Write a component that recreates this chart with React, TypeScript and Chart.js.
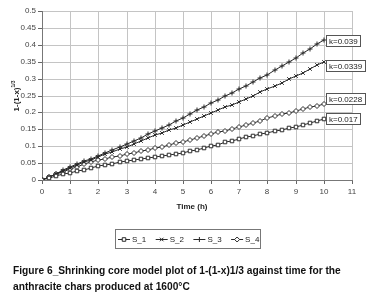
import React, { useEffect, useRef } from 'react';
import { Chart, registerables } from 'chart.js';
import { drawPoint } from 'chart.js/helpers';

Chart.register(...registerables);

const times = [
  0, 0.25, 0.5, 0.75, 1, 1.25, 1.5, 1.75, 2, 2.25, 2.5, 2.75, 3, 3.25, 3.5, 3.75, 4, 4.25, 4.5, 4.75,
  5, 5.25, 5.5, 5.75, 6, 6.25, 6.5, 6.75, 7, 7.25, 7.5, 7.75, 8, 8.25, 8.5, 8.75, 9, 9.25, 9.5, 9.75, 10,
];

const s1 = [
  0, 0.006, 0.011, 0.017, 0.022, 0.027, 0.031, 0.036, 0.04, 0.044, 0.048, 0.052, 0.055, 0.058, 0.062, 0.065,
  0.068, 0.071, 0.074, 0.078, 0.081, 0.086, 0.09, 0.095, 0.1, 0.105, 0.111, 0.116, 0.122, 0.126, 0.131, 0.135,
  0.14, 0.144, 0.149, 0.153, 0.158, 0.163, 0.169, 0.174, 0.18,
];
const s2 = [
  0, 0.009, 0.018, 0.027, 0.036, 0.044, 0.052, 0.06, 0.068, 0.076, 0.084, 0.091, 0.099, 0.107, 0.115, 0.124,
  0.132, 0.14, 0.148, 0.155, 0.163, 0.172, 0.18, 0.189, 0.197, 0.206, 0.215, 0.223, 0.232, 0.241, 0.25, 0.259,
  0.268, 0.278, 0.288, 0.298, 0.308, 0.318, 0.329, 0.339, 0.35,
];
const s3 = [
  0, 0.01, 0.019, 0.029, 0.038, 0.046, 0.055, 0.063, 0.072, 0.08, 0.089, 0.097, 0.106, 0.116, 0.125, 0.135,
  0.145, 0.155, 0.164, 0.174, 0.184, 0.195, 0.206, 0.217, 0.228, 0.238, 0.248, 0.258, 0.268, 0.279, 0.29, 0.301,
  0.312, 0.324, 0.337, 0.349, 0.362, 0.375, 0.388, 0.401, 0.414,
];
const s4 = [
  0, 0.009, 0.017, 0.025, 0.033, 0.039, 0.046, 0.052, 0.058, 0.063, 0.068, 0.072, 0.077, 0.081, 0.086, 0.09,
  0.095, 0.099, 0.104, 0.108, 0.113, 0.118, 0.124, 0.129, 0.135, 0.141, 0.146, 0.152, 0.158, 0.164, 0.17, 0.176,
  0.182, 0.188, 0.194, 0.199, 0.205, 0.21, 0.215, 0.22, 0.225,
];

const seriesNames = ['S_1', 'S_2', 'S_3', 'S_4'];
const seriesValues = [s1, s2, s3, s4];
const seriesMarkers = ['rect', 'crossRot', 'cross', 'rectRot'];
const kLabels = ['k=0.017', 'k=0.0339', 'k=0.039', 'k=0.0228'];

const xTitle = 'Time (h)';
const yTitleMain = '1-(1-x)';
const yTitleSup = '1/3';
const captionLines = [
  'Figure 6_Shrinking core model plot of 1-(1-x)1/3 against time for the',
  'anthracite chars produced at 1600°C',
];

const FONT = '"Liberation Sans", Arial, sans-serif';
const LINE = '#2a2a2a';

const decorPlugin = {
  id: 'decor',
  afterDraw(chart: any) {
    const ctx = chart.ctx;
    const xs = chart.scales.x;
    const ys = chart.scales.y;
    ctx.save();
    // axis titles
    ctx.fillStyle = '#222';
    ctx.font = `bold 8px ${FONT}`;
    ctx.textAlign = 'center';
    ctx.textBaseline = 'middle';
    ctx.fillText(xTitle, 192, 207);

    ctx.save();
    ctx.translate(17, 96);
    ctx.rotate(-Math.PI / 2);
    ctx.font = `bold 8px ${FONT}`;
    const wMain = ctx.measureText(yTitleMain).width;
    ctx.font = `bold 5px ${FONT}`;
    const wSup = ctx.measureText(yTitleSup).width;
    const start = -(wMain + wSup) / 2;
    ctx.textAlign = 'left';
    ctx.font = `bold 8px ${FONT}`;
    ctx.fillText(yTitleMain, start, 0);
    ctx.font = `bold 5px ${FONT}`;
    ctx.fillText(yTitleSup, start + wMain, -3);
    ctx.restore();

    // k labels next to the last point of each series
    const offsets = [0, 4, 1, -5];
    ctx.font = `8px ${FONT}`;
    ctx.textAlign = 'left';
    ctx.textBaseline = 'middle';
    seriesValues.forEach((vals, i) => {
      const last = vals.length - 1;
      const px = xs.getPixelForValue(times[last]) + 2;
      const py = Math.round(ys.getPixelForValue(vals[last]) + offsets[i]);
      const w = Math.ceil(ctx.measureText(kLabels[i]).width) + 5;
      ctx.fillStyle = '#fff';
      ctx.fillRect(px + 0.5, py - 5.5, w, 11);
      ctx.strokeStyle = '#555';
      ctx.lineWidth = 1;
      ctx.strokeRect(px + 0.5, py - 5.5, w, 11);
      ctx.fillStyle = '#222';
      ctx.fillText(kLabels[i], px + 3, py + 0.5);
    });

    // legend
    const lx = 115, ly = 229, lw = 145, lh = 19;
    ctx.strokeStyle = '#777';
    ctx.strokeRect(lx + 0.5, ly + 0.5, lw, lh);
    const cy = ly + 10;
    seriesNames.forEach((name, i) => {
      const x0 = lx + 3 + i * 37.7;
      ctx.strokeStyle = LINE;
      ctx.lineWidth = 1;
      ctx.beginPath();
      ctx.moveTo(x0, cy + 0.5);
      ctx.lineTo(x0 + 12, cy + 0.5);
      ctx.stroke();
      ctx.fillStyle = '#fff';
      ctx.strokeStyle = LINE;
      drawPoint(
        ctx,
        { pointStyle: seriesMarkers[i], radius: 2.5, rotation: 0, borderWidth: 1 } as any,
        x0 + 6,
        cy + 0.5,
      );
      ctx.fillStyle = '#222';
      ctx.font = `8px ${FONT}`;
      ctx.textAlign = 'left';
      ctx.fillText(name, x0 + 14, cy + 0.5);
    });
    ctx.restore();
  },
};

export default function App() {
  const ref = useRef<HTMLCanvasElement>(null);
  useEffect(() => {
    if (!ref.current) return;
    const chart = new Chart(ref.current, {
      type: 'line',
      data: {
        datasets: seriesValues.map((vals, i) => ({
          label: seriesNames[i],
          data: vals.map((v, j) => ({ x: times[j], y: v })),
          borderColor: LINE,
          borderWidth: 1,
          pointStyle: seriesMarkers[i] as any,
          pointRadius: 2.5,
          pointBorderColor: LINE,
          pointBackgroundColor: '#fff',
          pointBorderWidth: 1,
          tension: 0,
          fill: false,
        })),
      },
      options: {
        responsive: false,
        animation: false,
        devicePixelRatio: 1,
        layout: { padding: { left: 0, right: 19, top: 11, bottom: 0 } },
        plugins: { legend: { display: false }, tooltip: { enabled: false }, title: { display: false } },
        scales: {
          x: {
            type: 'linear',
            min: 0,
            max: 11,
            alignToPixels: true,
            afterFit: (s: any) => { s.height = 118; },
            ticks: { stepSize: 1, padding: 3, color: '#444', font: { size: 8, family: FONT } },
            grid: { color: '#c4c4c4', tickColor: '#666', tickLength: 4, lineWidth: 1 },
            border: { display: true, color: '#777' },
          },
          y: {
            type: 'linear',
            min: 0,
            max: 0.5,
            alignToPixels: true,
            afterFit: (s: any) => { s.width = 42; },
            ticks: {
              stepSize: 0.05,
              padding: 2,
              color: '#444',
              font: { size: 8, family: FONT },
              callback: (v: any) => String(Number(Number(v).toFixed(2))),
            },
            grid: { color: '#c4c4c4', tickColor: '#666', tickLength: 4, lineWidth: 1 },
            border: { display: true, color: '#777' },
          },
        },
      },
      plugins: [decorPlugin],
    });
    return () => chart.destroy();
  }, []);

  return (
    <div style={{ position: 'fixed', left: 0, top: 0, width: 371, height: 298, background: '#fff' }}>
      <canvas ref={ref} width={371} height={298} style={{ display: 'block' }} />
      <div
        style={{
          position: 'absolute',
          left: 13,
          top: 263,
          fontFamily: FONT,
          fontWeight: 'bold',
          fontSize: 10.2,
          lineHeight: '16px',
          color: '#111',
          whiteSpace: 'nowrap',
        }}
      >
        {captionLines.map((l, i) => (
          <div key={i}>{l}</div>
        ))}
      </div>
    </div>
  );
}
